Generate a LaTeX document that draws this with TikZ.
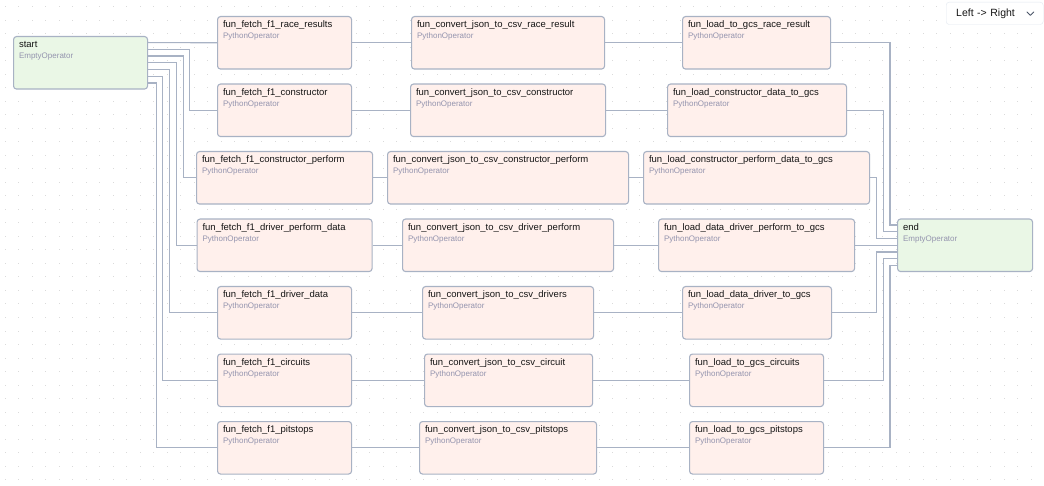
\documentclass[tikz,border=0pt]{standalone}
\usepackage{fontspec}
\setmainfont{Liberation Sans}
\usepackage{xcolor}
\usetikzlibrary{calc}
\definecolor{pyfill}{HTML}{FFF0EC}
\definecolor{emptyfill}{HTML}{EAF7E6}
\definecolor{boxline}{HTML}{A8B2C4}
\definecolor{edgeline}{HTML}{A8B2C4}
\definecolor{opgray}{HTML}{9494AE}
\definecolor{titletext}{HTML}{151515}
\definecolor{dotgray}{HTML}{DADADA}
\definecolor{ddline}{HTML}{E2E8F0}
\definecolor{ddchev}{HTML}{4A5568}
\newcommand{\op}[1]{{\fontsize{8}{9.6}\selectfont\color{opgray}#1}}

\begin{document}
\begin{tikzpicture}[x=1pt, y=-1pt,
    every node/.style={font=\fontsize{9.5}{10.7}\selectfont, text=titletext},
    task/.style={draw=boxline, fill=pyfill, line width=1.1pt, rounded corners=3pt,
                 anchor=north west, align=left, inner xsep=5.5pt, inner ysep=0pt,
                 text width=#1-11pt, text height=11.3pt, text depth=41.2pt},
    emptytask/.style={task=#1, fill=emptyfill},
    link/.style={draw=edgeline, line width=1.1pt},
  ]
  \useasboundingbox (0,0) rectangle (1044,486);
  \fill[white] (0,0) rectangle (1044,486);

  % dotted canvas
  \foreach \i in {0,...,77}{
    \foreach \j in {0,...,35}{
      \fill[dotgray] (4.5+13.5*\i,6.5+13.5*\j) rectangle ++(1,1);
    }
  }

  % Nodes
  \node[emptytask=134pt] (start) at (13,36) {start\\\op{EmptyOperator}};

  \node[task=134pt] (fetch-race)     at (217,16)    {fun\_fetch\_f1\_race\_results\\\op{PythonOperator}};
  \node[task=134pt] (fetch-cons)     at (217,83.5)  {fun\_fetch\_f1\_constructor\\\op{PythonOperator}};
  \node[task=176pt] (fetch-consperf) at (196,151)   {fun\_fetch\_f1\_constructor\_perform\\\op{PythonOperator}};
  \node[task=175pt] (fetch-drvperf)  at (196.5,218.5) {fun\_fetch\_f1\_driver\_perform\_data\\\op{PythonOperator}};
  \node[task=134pt] (fetch-drv)      at (217,286)   {fun\_fetch\_f1\_driver\_data\\\op{PythonOperator}};
  \node[task=134pt] (fetch-circ)     at (217,353.5) {fun\_fetch\_f1\_circuits\\\op{PythonOperator}};
  \node[task=134pt] (fetch-pit)      at (217,421)   {fun\_fetch\_f1\_pitstops\\\op{PythonOperator}};

  \node[task=193pt] (conv-race)     at (411,16)    {fun\_convert\_json\_to\_csv\_race\_result\\\op{PythonOperator}};
  \node[task=195pt] (conv-cons)     at (410,83.5)  {fun\_convert\_json\_to\_csv\_constructor\\\op{PythonOperator}};
  \node[task=241pt] (conv-consperf) at (387,151)   {fun\_convert\_json\_to\_csv\_constructor\_perform\\\op{PythonOperator}};
  \node[task=211pt] (conv-drvperf)  at (402,218.5) {fun\_convert\_json\_to\_csv\_driver\_perform\\\op{PythonOperator}};
  \node[task=171pt] (conv-drv)      at (422,286)   {fun\_convert\_json\_to\_csv\_drivers\\\op{PythonOperator}};
  \node[task=168pt] (conv-circ)     at (424,353.5) {fun\_convert\_json\_to\_csv\_circuit\\\op{PythonOperator}};
  \node[task=177pt] (conv-pit)      at (419,421)   {fun\_convert\_json\_to\_csv\_pitstops\\\op{PythonOperator}};

  \node[task=148pt] (load-race)     at (682,16)    {fun\_load\_to\_gcs\_race\_result\\\op{PythonOperator}};
  \node[task=179pt] (load-cons)     at (667,83.5)  {fun\_load\_constructor\_data\_to\_gcs\\\op{PythonOperator}};
  \node[task=226pt] (load-consperf) at (643,151)   {fun\_load\_constructor\_perform\_data\_to\_gcs\\\op{PythonOperator}};
  \node[task=196pt] (load-drvperf)  at (658,218.5) {fun\_load\_data\_driver\_perform\_to\_gcs\\\op{PythonOperator}};
  \node[task=149pt] (load-drv)      at (682,286)   {fun\_load\_data\_driver\_to\_gcs\\\op{PythonOperator}};
  \node[task=134pt] (load-circ)     at (689,353.5) {fun\_load\_to\_gcs\_circuits\\\op{PythonOperator}};
  \node[task=134pt] (load-pit)      at (689,421)   {fun\_load\_to\_gcs\_pitstops\\\op{PythonOperator}};

  \node[emptytask=135pt] (stop) at (897,218.5) {end\\\op{EmptyOperator}};

  % layout selector
  \node[draw=ddline, fill=white, rounded corners=3pt, anchor=north west,
        inner xsep=10pt, inner ysep=0pt, text width=77pt, align=left,
        text height=14.7pt, text depth=7.6pt, font=\fontsize{10.5}{12}\selectfont]
    (layout) at (946,2) {Left -> Right};
  \draw[ddchev, line width=0.9pt, line cap=round, line join=round]
    ($(layout.east)+(-16.5,-1.5)$) -- ++(3.5,3.5) -- ++(3.5,-3.5);

  % start -> fetch
  \draw[link] ($(start.east)+(0,-20.25)$) -- (fetch-race.west);
  \draw[link] ($(start.east)+(0,-13.5)$) -- ++(41.75,0) |- (fetch-cons.west);
  \draw[link] ($(start.east)+(0,-6.75)$) -- ++(35,0) |- (fetch-consperf.west);
  \draw[link] ($(start.east)+(0,0)$) -- ++(28.25,0) |- (fetch-drvperf.west);
  \draw[link] ($(start.east)+(0,6.75)$) -- ++(21.5,0) |- (fetch-drv.west);
  \draw[link] ($(start.east)+(0,13.5)$) -- ++(14.75,0) |- (fetch-circ.west);
  \draw[link] ($(start.east)+(0,20.25)$) -- ++(8,0) |- (fetch-pit.west);

  % fetch -> convert
  \draw[link] (fetch-race) -- (conv-race);
  \draw[link] (fetch-cons) -- (conv-cons);
  \draw[link] (fetch-consperf) -- (conv-consperf);
  \draw[link] (fetch-drvperf) -- (conv-drvperf);
  \draw[link] (fetch-drv) -- (conv-drv);
  \draw[link] (fetch-circ) -- (conv-circ);
  \draw[link] (fetch-pit) -- (conv-pit);

  % convert -> load
  \draw[link] (conv-race) -- (load-race);
  \draw[link] (conv-cons) -- (load-cons);
  \draw[link] (conv-consperf) -- (load-consperf);
  \draw[link] (conv-drvperf) -- (load-drvperf);
  \draw[link] (conv-drv) -- (load-drv);
  \draw[link] (conv-circ) -- (load-circ);
  \draw[link] (conv-pit) -- (load-pit);

  % load -> end
  \draw[link] ($(stop.west)+(0,-20.25)$) -- ++(-7,0) |- (load-race.east);
  \draw[link] ($(stop.west)+(0,-13.5)$) -- ++(-13.75,0) |- (load-cons.east);
  \draw[link] ($(stop.west)+(0,-6.75)$) -- ++(-20.5,0) |- (load-consperf.east);
  \draw[link] (stop.west) -- (load-drvperf.east);
  \draw[link] ($(stop.west)+(0,6.75)$) -- ++(-20.5,0) |- (load-drv.east);
  \draw[link] ($(stop.west)+(0,13.5)$) -- ++(-13.75,0) |- (load-circ.east);
  \draw[link] ($(stop.west)+(0,20.25)$) -- ++(-7,0) |- (load-pit.east);
\end{tikzpicture}
\end{document}
